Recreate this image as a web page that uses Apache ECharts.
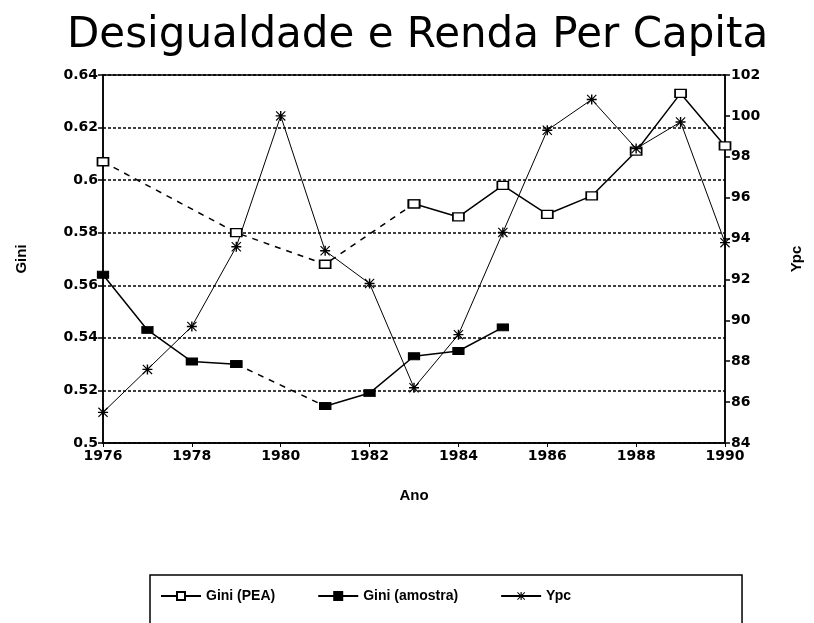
<!DOCTYPE html>
<html>
<head>
<meta charset="utf-8">
<script src="https://cdn.jsdelivr.net/npm/echarts@6/dist/echarts.min.js"></script>
<style>
  html, body { margin: 0; padding: 0; background: #fff; }
  #chart { width: 814px; height: 623px; }
</style>
</head>
<body>
<div id="chart"></div>
<script>
const years = ["1976", "1977", "1978", "1979", "1980", "1981", "1982", "1983",
  "1984", "1985", "1986", "1987", "1988", "1989", "1990"];
// '-' = no observation for that year
const giniPEA = [0.607, "-", "-", 0.580, "-", 0.568, "-", 0.591,
  0.586, 0.598, 0.587, 0.594, 0.611, 0.633, 0.613];
const giniAmostra = [0.564, 0.543, 0.531, 0.530, "-", 0.514, 0.519, 0.533,
  0.535, 0.544, "-", "-", "-", "-", "-"];
const ypc = [85.5, 87.6, 89.7, 93.6, 100.0, 93.4, 91.8, 86.7,
  89.3, 94.3, 99.3, 100.8, 98.4, 99.7, 93.8];

// consecutive years -> solid segment, gap between years -> dashed segment
function splitSegments(vals) {
  const solid = vals.map(() => "-");
  const dashed = vals.map(() => "-");
  let prev = -1;
  vals.forEach((v, i) => {
    if (v === "-") return;
    if (prev >= 0) {
      const target = i - prev === 1 ? solid : dashed;
      target[prev] = vals[prev];
      target[i] = v;
    }
    prev = i;
  });
  return { solid, dashed };
}

const pea = splitSegments(giniPEA);
const amostra = splitSegments(giniAmostra);

const asterisk = "path://M0,4.3L10,4.3L10,5.7L0,5.7Z M0.8,0L10,9.2L9.2,10L0,0.8Z M9.2,0L10,0.8L0.8,10L0,9.2Z M4.3,0L5.7,0L5.7,10L4.3,10Z";

const font = "DejaVu Sans";
const labelStyle = { color: "#000", fontFamily: font, fontWeight: "bold", fontSize: 14 };
const nameStyle = { color: "#000", fontFamily: "Liberation Sans", fontWeight: "bold", fontSize: 15 };

const peaStyle = {
  type: "line",
  yAxisIndex: 0,
  symbol: "rect",
  symbolSize: [11, 8],
  itemStyle: { color: "#fff", borderColor: "#000", borderWidth: 1.5 },
};
const amostraStyle = {
  type: "line",
  yAxisIndex: 0,
  symbol: "rect",
  symbolSize: [11, 7],
  itemStyle: { color: "#000", borderColor: "#000", borderWidth: 1 },
};

const chart = echarts.init(document.getElementById("chart"));
chart.setOption({
  animation: false,
  backgroundColor: "#fff",
  title: {
    text: "Desigualdade e Renda Per Capita",
    left: 62,
    top: 10,
    textStyle: { color: "#000", fontFamily: font, fontWeight: "normal", fontSize: 42 },
  },
  legend: {
    left: 150,
    top: 575,
    padding: [14, 171, 40, 10],
    borderColor: "#000",
    borderWidth: 1.5,
    itemWidth: 40,
    itemHeight: 10,
    itemGap: 42,
    textStyle: { color: "#000", fontFamily: "Liberation Sans", fontWeight: "bold", fontSize: 14 },
    data: ["Gini (PEA)", "Gini (amostra)", "Ypc"],
  },
  grid: {
    left: 103, right: 89, top: 75, bottom: 180,
    show: true, borderColor: "#000", borderWidth: 1.5,
  },
  xAxis: {
    type: "category",
    data: years,
    boundaryGap: false,
    name: "Ano",
    nameLocation: "middle",
    nameGap: 45,
    nameTextStyle: nameStyle,
    axisLine: { lineStyle: { color: "#000", width: 1.5 } },
    axisTick: { interval: 1, length: 4, lineStyle: { color: "#000" } },
    axisLabel: Object.assign({ interval: 1, margin: 6 }, labelStyle),
    splitLine: { show: false },
  },
  yAxis: [
    {
      type: "value",
      min: 0.5, max: 0.64, interval: 0.02,
      name: "Gini",
      nameLocation: "middle",
      nameGap: 74,
      nameTextStyle: nameStyle,
      axisLine: { show: true, lineStyle: { color: "#000", width: 1.5 } },
      axisTick: { show: true, length: 5, lineStyle: { color: "#000", width: 1.5 } },
      axisLabel: Object.assign({ margin: 5 }, labelStyle),
      splitLine: { show: true, lineStyle: { color: "#000", type: [3, 2], width: 1.5 } },
    },
    {
      type: "value",
      min: 84, max: 102, interval: 2,
      name: "Ypc",
      nameLocation: "middle",
      nameGap: 64,
      nameTextStyle: nameStyle,
      axisLine: { show: true, lineStyle: { color: "#000", width: 1.5 } },
      axisTick: { show: true, length: 5, lineStyle: { color: "#000", width: 1.5 } },
      axisLabel: Object.assign({ margin: 6 }, labelStyle),
      splitLine: { show: false },
    },
  ],
  series: [
    Object.assign({}, peaStyle, {
      name: "Gini (PEA)",
      data: pea.solid,
      connectNulls: false,
      lineStyle: { color: "#000", width: 1.5 },
    }),
    Object.assign({}, peaStyle, {
      name: "Gini (PEA)",
      data: pea.dashed,
      connectNulls: true,
      lineStyle: { color: "#000", width: 1.5, type: [6, 6] },
    }),
    Object.assign({}, amostraStyle, {
      name: "Gini (amostra)",
      data: amostra.solid,
      connectNulls: false,
      lineStyle: { color: "#000", width: 1.5 },
    }),
    Object.assign({}, amostraStyle, {
      name: "Gini (amostra)",
      data: amostra.dashed,
      connectNulls: true,
      lineStyle: { color: "#000", width: 1.5, type: [6, 6] },
    }),
    {
      name: "Ypc",
      type: "line",
      yAxisIndex: 1,
      data: ypc,
      symbol: asterisk,
      symbolSize: 10,
      itemStyle: { color: "#000" },
      lineStyle: { color: "#000", width: 1 },
    },
  ],
});
</script>
</body>
</html>
